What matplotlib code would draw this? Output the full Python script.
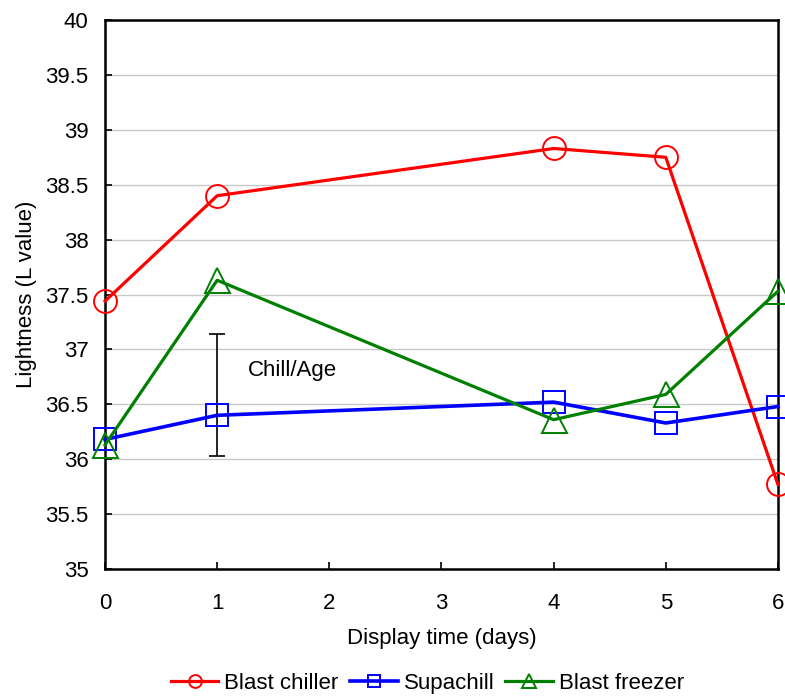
import matplotlib
matplotlib.use("Agg")
import matplotlib.pyplot as plt

plt.rcParams['font.family'] = ['Liberation Sans', 'DejaVu Sans']

days = [0, 1, 4, 5, 6]
blast_chiller = [37.44, 38.40, 38.83, 38.75, 35.77]
supachill = [36.18, 36.40, 36.52, 36.33, 36.48]
blast_freezer = [36.13, 37.63, 36.36, 36.59, 37.53]
err_x = 1
err_center = 36.585
err_half = 0.555
xticks = [0, 1, 2, 3, 4, 5, 6]
yticks = [35, 35.5, 36, 36.5, 37, 37.5, 38, 38.5, 39, 39.5, 40]

fig = plt.figure(figsize=(7.85, 6.98), dpi=100)
ax = fig.add_axes([0.1338, 0.1848, 0.8572, 0.7865])

ax.set_axisbelow(True)
ax.grid(axis='y', color='#c8c8c8', linewidth=1.0)

series = [
    (blast_chiller, 'red', 'o', 'Blast chiller', 16.5, 2.3),
    (supachill, 'blue', 's', 'Supachill', 16.5, 2.6),
    (blast_freezer, 'green', '^', 'Blast freezer', 18, 2.3),
]
for vals, col, mk, lab, ms, lw in series:
    ax.plot(days, vals, color=col, linewidth=lw, marker=mk, markersize=ms,
            markerfacecolor='none', markeredgecolor=col, markeredgewidth=1.4,
            label=lab, clip_on=False, zorder=3)

ax.errorbar([err_x], [err_center], yerr=[err_half], color='black', capsize=6,
            elinewidth=1.2, capthick=1.2, fmt='none', zorder=2)
ax.text(1.27, 36.81, 'Chill/Age', fontsize=16, va='center', ha='left')

ax.set_xlim(0, 6)
ax.set_ylim(35, 40)
ax.set_xticks(xticks)
ax.set_yticks(yticks)
ax.set_yticklabels([('%g' % v) for v in yticks])
ax.tick_params(direction='in', labelsize=16, length=5, width=1.2)
ax.tick_params(axis='x', pad=17)
ax.tick_params(axis='y', pad=12)
for s in ax.spines.values():
    s.set_linewidth(1.8)

ax.set_xlabel('Display time (days)', fontsize=16, labelpad=10)
ax.set_ylabel('Lightness (L value)', fontsize=16, labelpad=6)

fig.legend(loc='center', bbox_to_anchor=(0.5446, 0.021), ncol=3, frameon=False,
           fontsize=16, markerscale=0.56, handlelength=2.15, handletextpad=0.27,
           columnspacing=0.5)

fig.savefig('out.png', dpi=100)
